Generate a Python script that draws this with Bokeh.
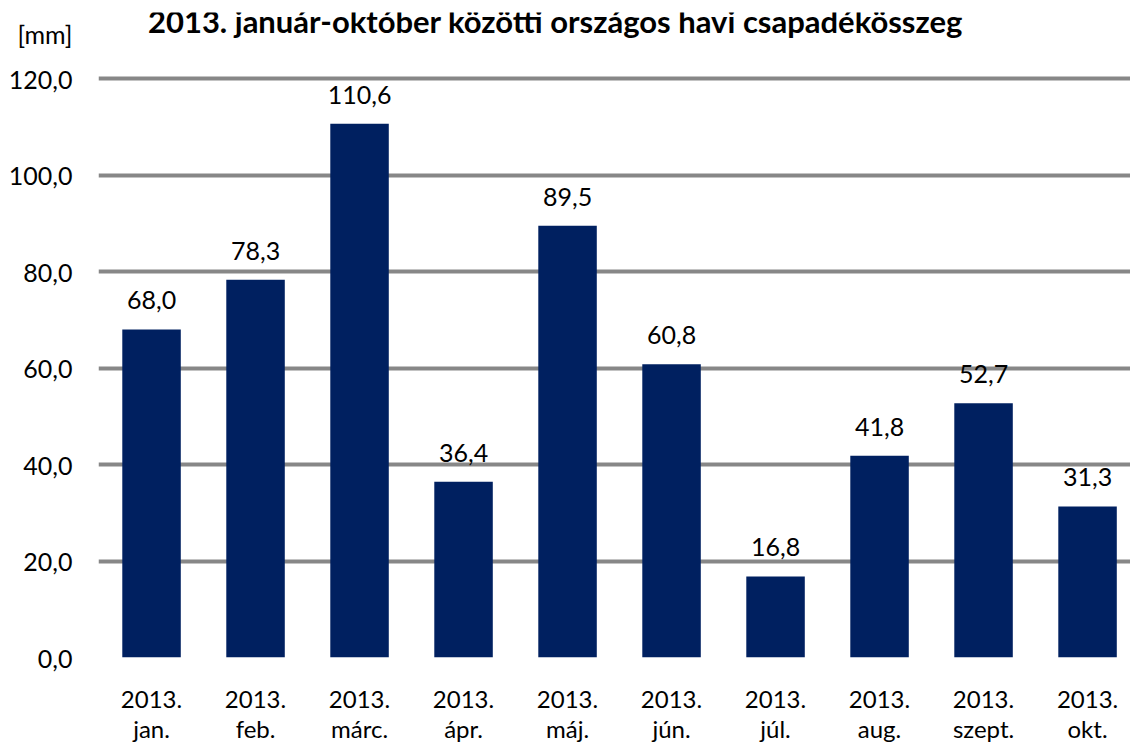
from bokeh.plotting import figure
from bokeh.models import Range1d, FixedTicker, Label, ColumnDataSource
from bokeh.embed import file_html
from bokeh.resources import INLINE
from bokeh.core.properties import value

months = ["jan.", "feb.", "márc.", "ápr.", "máj.", "jún.", "júl.", "aug.", "szept.", "okt."]
year = "2013."
precip = [68.0, 78.3, 110.6, 36.4, 89.5, 60.8, 16.8, 41.8, 52.7, 31.3]
y_ticks = [0, 20, 40, 60, 80, 100, 120]
title_text = "2013. január-október közötti országos havi csapadékösszeg"
unit_text = "[mm]"

FONT = "Lato"
BAR = "#002060"
GRID = "#878787"

# layout constants (not data)
Y_END = 133.68      # top of frame leaves room for title / unit text
UNIT_Y = 129.2      # where the "[mm]" label sits on the value axis
TITLE_X, TITLE_Y = 3.884, 132.0

xs = list(range(len(months)))
labels = [f"{v:.1f}".replace(".", ",") for v in precip]
src = ColumnDataSource(dict(x=xs, y=precip, lab=labels))

p = figure(width=1130, height=750, output_backend="svg", toolbar_location=None,
           x_range=Range1d(-0.51, 9.413), y_range=Range1d(0, Y_END),
           min_border_left=98, min_border_right=0, min_border_top=12, min_border_bottom=93)
p.outline_line_color = None
p.background_fill_color = "white"
p.border_fill_color = "white"

p.vbar(x="x", top="y", width=0.5625, bottom=0, source=src, fill_color=BAR, line_color=None)
p.text(x="x", y="y", text="lab", source=src, text_align="center", text_baseline="alphabetic",
       y_offset=-29, text_font=value(FONT), text_font_size="25px", text_color="black")

# grid
p.xgrid.grid_line_color = None
p.ygrid.grid_line_color = GRID
p.ygrid.grid_line_width = 4
p.ygrid.ticker = FixedTicker(ticks=y_ticks)

# value axis (unit text shown as the top label)
overrides = {t: f"{t:.1f}".replace(".", ",") for t in y_ticks}
overrides[UNIT_Y] = unit_text
p.yaxis.ticker = FixedTicker(ticks=y_ticks + [UNIT_Y])
p.yaxis.major_label_overrides = overrides
p.yaxis.axis_line_color = None
p.yaxis.major_tick_line_color = None
p.yaxis.minor_tick_line_color = None
p.yaxis.major_label_standoff = 20
p.yaxis.major_label_text_font = FONT
p.yaxis.major_label_text_font_size = "25px"
p.yaxis.major_label_text_color = "black"

p.xaxis.ticker = FixedTicker(ticks=xs)
p.xaxis.major_label_overrides = {i: f"{year}\n{m}" for i, m in zip(xs, months)}
p.xaxis.axis_line_color = None
p.xaxis.major_tick_line_color = None
p.xaxis.minor_tick_line_color = None
p.xaxis.major_label_standoff = 20
p.xaxis.major_label_text_font = FONT
p.xaxis.major_label_text_font_size = "24px"
p.xaxis.major_label_text_line_height = 1.05
p.xaxis.major_label_text_color = "black"

p.add_layout(Label(x=TITLE_X, y=TITLE_Y, text=title_text, text_align="center", text_baseline="alphabetic",
                   text_font=FONT, text_font_size="31px", text_font_style="bold", text_color="black"))

open("out.html", "w").write(file_html(p, INLINE))
